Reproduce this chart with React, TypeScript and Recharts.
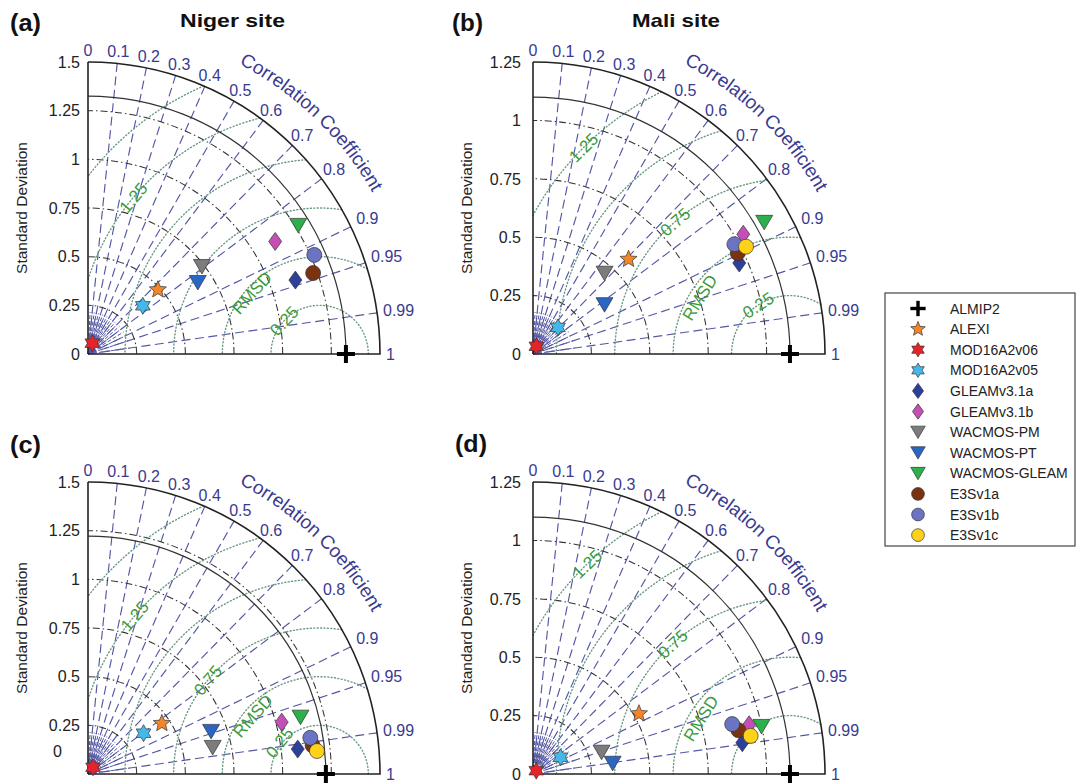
import React from "react";
import { ScatterChart, Scatter, XAxis, YAxis, ReferenceLine } from "recharts";

const models = [
  "ALMIP2",
  "ALEXI",
  "MOD16A2v06",
  "MOD16A2v05",
  "GLEAMv3.1a",
  "GLEAMv3.1b",
  "WACMOS-PM",
  "WACMOS-PT",
  "WACMOS-GLEAM",
  "E3Sv1a",
  "E3Sv1b",
  "E3Sv1c",
];
const markerKinds = ["plus", "star5", "hex", "hex", "diamond", "diamond", "tri", "tri", "tri", "circle", "circle", "circle"];
const markerColors = ["#000000", "#f2862a", "#e5232b", "#45b8ea", "#2b3f9b", "#c44fb7", "#7c7c7c", "#2a66c4", "#2bb04c", "#7b3210", "#6b74c2", "#ffd21a"];

// (a) Niger site: standard deviation and correlation per model
const nigerStdA = [1.325, 0.488, 0.06, 0.375, 1.131, 1.122, 0.738, 0.673, 1.266, 1.229, 1.269, null];
const nigerCorrA = [1, 0.736, 0.37, 0.751, 0.942, 0.857, 0.793, 0.838, 0.853, 0.941, 0.916, null];
// (b) Mali site
const maliStdB = [1.1, 0.576, 0.036, 0.156, 0.965, 1.036, 0.462, 0.372, 1.139, 0.977, 0.982, 1.021];
const maliCorrB = [1, 0.71, 0.4, 0.684, 0.915, 0.869, 0.663, 0.823, 0.869, 0.897, 0.878, 0.893];
// (c) Niger site
const nigerStdC = [1.222, 0.46, 0.043, 0.354, 1.085, 1.03, 0.655, 0.669, 1.13, 1.163, 1.157, 1.182];
const nigerCorrC = [1, 0.825, 0.6, 0.806, 0.993, 0.966, 0.978, 0.945, 0.966, 0.992, 0.987, 0.995];
// (d) Mali site
const maliStdD = [1.1, 0.522, 0.02, 0.138, 0.906, 0.949, 0.308, 0.344, 0.999, 0.899, 0.879, 0.946];
const maliCorrD = [1, 0.869, 0.7, 0.854, 0.989, 0.975, 0.953, 0.991, 0.979, 0.978, 0.97, 0.985];

const corrTicks = [0, 0.1, 0.2, 0.3, 0.4, 0.5, 0.6, 0.7, 0.8, 0.9, 0.95, 0.99, 1];
const corrFan = [0.05, 0.15, 0.25, 0.35, 0.45, 0.55, 0.65, 0.75, 0.85];
const stdTicks15 = [0, 0.25, 0.5, 0.75, 1, 1.25, 1.5];
const stdTicks125 = [0, 0.25, 0.5, 0.75, 1, 1.25];
const stdArcs15 = [0.25, 0.5, 0.75, 1, 1.25];
const stdArcs125 = [0.25, 0.5, 0.75, 1];
const rmsLevels15 = [0.25, 0.5, 0.75, 1, 1.25, 1.5];
const rmsLevels125 = [0.25, 0.5, 0.75, 1, 1.25];
const corrTitle = "Correlation Coefficient";

const FONT = 'Arial, "Liberation Sans", Helvetica, sans-serif';
const RAY = "#5457a4";
const BLUE_TXT = "#3a3a90";
const GREEN_TXT = "#3b9b3b";
const DOT = "#6a9884";

// approximate Arial advance widths (em) for the curved title
const glyphW: Record<string, number> = {
  C: 0.722, o: 0.556, r: 0.333, e: 0.556, l: 0.222, a: 0.556, t: 0.278,
  i: 0.222, n: 0.556, " ": 0.278, f: 0.278, c: 0.5,
};

const panels = [
  {
    key: "a", tag: "(a)", title: "Niger site",
    box: { left: 0, top: 0, width: 440, height: 400 },
    margin: { top: 62, left: 48, right: 60, bottom: 46 },
    R: 1.5, ticks: stdTicks15, stdArcs: stdArcs15, ref: 1.325, rmsCenter: 1.19, rmsLevels: rmsLevels15,
    rmsLabels: [
      { r: 1.25, deg: 140, text: "1.25" },
      { r: 0.47, deg: 138, text: "RMSD" },
      { r: 0.25, deg: 137, text: "0.25" },
    ],
    std: nigerStdA, corr: nigerCorrA, tickDx: 0, zeroShift: null,
  },
  {
    key: "b", tag: "(b)", title: "Mali site",
    box: { left: 440, top: 0, width: 440, height: 400 },
    margin: { top: 62, left: 53, right: 55, bottom: 46 },
    R: 1.25, ticks: stdTicks125, stdArcs: stdArcs125, ref: 1.1, rmsCenter: 1.1, rmsLevels: rmsLevels125,
    rmsLabels: [
      { r: 1.25, deg: 135, text: "1.25" },
      { r: 0.75, deg: 131, text: "0.75" },
      { r: 0.456, deg: 148, text: "RMSD" },
      { r: 0.25, deg: 123, text: "0.25" },
    ],
    std: maliStdB, corr: maliCorrB, tickDx: -4, zeroShift: null,
  },
  {
    key: "c", tag: "(c)", title: "",
    box: { left: 0, top: 400, width: 440, height: 384 },
    margin: { top: 82, left: 48, right: 60, bottom: 10 },
    R: 1.5, ticks: stdTicks15, stdArcs: stdArcs15, ref: 1.222, rmsCenter: 1.19, rmsLevels: rmsLevels15,
    rmsLabels: [
      { r: 1.25, deg: 139.5, text: "1.25" },
      { r: 0.75, deg: 140, text: "0.75" },
      { r: 0.456, deg: 139, text: "RMSD" },
      { r: 0.263, deg: 142, text: "0.25" },
    ],
    std: nigerStdC, corr: nigerCorrC, tickDx: 0, zeroShift: [-18, -23],
  },
  {
    key: "d", tag: "(d)", title: "",
    box: { left: 440, top: 400, width: 440, height: 384 },
    margin: { top: 82, left: 53, right: 55, bottom: 10 },
    R: 1.25, ticks: stdTicks125, stdArcs: stdArcs125, ref: 1.1, rmsCenter: 1.1, rmsLevels: rmsLevels125,
    rmsLabels: [
      { r: 1.25, deg: 134, text: "1.25" },
      { r: 0.75, deg: 132, text: "0.75" },
      { r: 0.45, deg: 148, text: "RMSD" },
    ],
    std: maliStdD, corr: maliCorrD, tickDx: -4, zeroShift: null,
  },
];

function starPoints(cx: number, cy: number, n: number, ro: number, ri: number) {
  const pts: string[] = [];
  for (let i = 0; i < 2 * n; i++) {
    const a = -Math.PI / 2 + (i * Math.PI) / n;
    const r = i % 2 === 0 ? ro : ri;
    pts.push(`${cx + r * Math.cos(a)},${cy + r * Math.sin(a)}`);
  }
  return pts.join(" ");
}

function Marker({ kind, cx, cy, fill, s = 1 }: any) {
  const edge = { fill, stroke: "#333", strokeWidth: 0.7 };
  if (kind === "plus") {
    return (
      <g stroke="#000" strokeWidth={4 * s}>
        <line x1={cx - 9 * s} y1={cy} x2={cx + 9 * s} y2={cy} />
        <line x1={cx} y1={cy - 9 * s} x2={cx} y2={cy + 9 * s} />
      </g>
    );
  }
  if (kind === "star5") return <polygon points={starPoints(cx, cy, 5, 9 * s, 4 * s)} {...edge} />;
  if (kind === "hex") return <polygon points={starPoints(cx, cy, 6, 8.5 * s, 4.9 * s)} {...edge} />;
  if (kind === "diamond")
    return (
      <polygon
        points={`${cx},${cy - 9 * s} ${cx + 6.5 * s},${cy} ${cx},${cy + 9 * s} ${cx - 6.5 * s},${cy}`}
        {...edge}
      />
    );
  if (kind === "tri")
    return (
      <polygon
        points={`${cx - 8.5 * s},${cy - 7 * s} ${cx + 8.5 * s},${cy - 7 * s} ${cx},${cy + 7.5 * s}`}
        {...edge}
      />
    );
  return <circle cx={cx} cy={cy} r={7.5 * s} {...edge} />;
}

function labelWidth(t: string, fs: number) {
  let w = 0;
  for (const ch of t) w += ch === "." ? 0.278 : 0.556;
  return w * fs;
}

// draws the polar grid of a Taylor diagram from the pixel ends of a reference segment
function TaylorGrid({ x1, y1, x2, panel }: any) {
  const R = panel.R;
  const k = (x2 - x1) / R;
  const ox = x1;
  const oy = y1;
  const px = (u: number) => ox + u * k;
  const py = (v: number) => oy - v * k;
  const Rp = R * k;
  const els: any[] = [];

  // fan of short rays near the origin
  corrFan.concat(corrTicks.filter((c) => c > 0 && c < 1)).forEach((c, i) => {
    const s = Math.sqrt(1 - c * c);
    els.push(
      <line key={`fan${i}`} x1={ox + 5 * c} y1={oy - 5 * s} x2={ox + 42 * c} y2={oy - 42 * s}
        stroke={RAY} strokeWidth={1} strokeDasharray="4 2" />
    );
  });

  // correlation rays
  corrTicks.filter((c) => c > 0 && c < 1).forEach((c, i) => {
    const s = Math.sqrt(1 - c * c);
    els.push(
      <line key={`ray${i}`} x1={ox} y1={oy} x2={px(R * c)} y2={py(R * s)}
        stroke={RAY} strokeWidth={1.15} strokeDasharray="9 4.5" />
    );
  });

  // standard deviation arcs
  panel.stdArcs.forEach((s: number, i: number) => {
    els.push(
      <path key={`sa${i}`} d={`M ${px(s)} ${oy} A ${s * k} ${s * k} 0 0 0 ${ox} ${py(s)}`}
        fill="none" stroke="#333" strokeWidth={1.05} strokeDasharray="7 3 1.5 3" />
    );
  });

  // RMSD contours
  const c = panel.rmsCenter;
  panel.rmsLevels.forEach((r: number, i: number) => {
    let a0 = 0;
    let a1 = Math.PI;
    if (c + r > R) {
      const xi = (R * R - r * r + c * c) / (2 * c);
      const yi = Math.sqrt(Math.max(0, R * R - xi * xi));
      a0 = Math.atan2(yi, xi - c);
    }
    if (c - r < 0) {
      const yi = Math.sqrt(r * r - c * c);
      if (yi > R) return;
      a1 = Math.atan2(yi, -c);
    }
    if (a0 >= a1) return;
    els.push(
      <path key={`rm${i}`}
        d={`M ${px(c + r * Math.cos(a0))} ${py(r * Math.sin(a0))} A ${r * k} ${r * k} 0 0 0 ${px(c + r * Math.cos(a1))} ${py(r * Math.sin(a1))}`}
        fill="none" stroke={DOT} strokeWidth={1.4} strokeDasharray="1 2.4" strokeLinecap="round" />
    );
  });

  // reference arc and outer frame
  els.push(
    <path key="refarc" d={`M ${px(panel.ref)} ${oy} A ${panel.ref * k} ${panel.ref * k} 0 0 0 ${ox} ${py(panel.ref)}`}
      fill="none" stroke="#333" strokeWidth={1.2} />
  );
  els.push(
    <path key="outer" d={`M ${ox} ${py(R)} A ${Rp} ${Rp} 0 0 1 ${px(R)} ${oy} L ${ox} ${oy}`}
      fill="none" stroke="#222" strokeWidth={1.6} />
  );

  // correlation tick labels
  corrTicks.forEach((cv, i) => {
    const th = Math.acos(cv);
    const t = String(cv);
    const fs = 16;
    const w = labelWidth(t, fs);
    const h = 0.72 * fs;
    const cs = Math.abs(Math.cos(th));
    const sn = Math.abs(Math.sin(th));
    const d = Math.min(cs > 1e-6 ? w / 2 / cs : 1e9, sn > 1e-6 ? h / 2 / sn : 1e9);
    const r = Rp + 6 + d;
    els.push(
      <text key={`cl${i}`} x={ox + r * Math.cos(th)} y={oy - r * Math.sin(th)} dy="0.36em"
        textAnchor="middle" fontSize={fs} fill={BLUE_TXT} fontFamily={FONT}>
        {t}
      </text>
    );
  });

  // curved axis title, letter by letter along an arc
  const rc = Rp + 35;
  const fsT = 19;
  let adv = 0;
  const a0deg = 62.5;
  Array.from(corrTitle).forEach((ch, i) => {
    const w = (glyphW[ch] ?? 0.5) * fsT;
    const mid = adv + w / 2;
    adv += w;
    if (ch === " ") return;
    const a = (a0deg * Math.PI) / 180 - mid / rc;
    const lx = ox + rc * Math.cos(a);
    const ly = oy - rc * Math.sin(a);
    const rot = 90 - (a * 180) / Math.PI;
    els.push(
      <text key={`ct${i}`} x={lx} y={ly} textAnchor="middle" fontSize={fsT} fill={BLUE_TXT} fontFamily={FONT}
        transform={`rotate(${rot} ${lx} ${ly})`}>
        {ch}
      </text>
    );
  });

  // RMSD labels
  panel.rmsLabels.forEach((lb: any, i: number) => {
    const a = (lb.deg * Math.PI) / 180;
    const lx = px(c + lb.r * Math.cos(a));
    const ly = py(lb.r * Math.sin(a));
    els.push(
      <text key={`rl${i}`} x={lx} y={ly} dy="0.36em" textAnchor="middle" fontSize={17} fill={GREEN_TXT}
        fontFamily={FONT} transform={`rotate(${-(lb.deg - 90)} ${lx} ${ly})`}>
        {lb.text}
      </text>
    );
  });

  // y-axis title
  const tx = ox - 61;
  const ty = oy - Rp / 2;
  els.push(
    <text key="ytitle" x={tx} y={ty} textAnchor="middle" fontSize={15.5} fill="#222" fontFamily={FONT}
      transform={`rotate(-90 ${tx} ${ty})`}>
      Standard Deviation
    </text>
  );

  return <g>{els}</g>;
}

function makeTick(panel: any) {
  return (tp: any) => {
    const v = tp.payload.value;
    let dx = panel.tickDx;
    let dy = 0;
    if (panel.zeroShift && v === 0) {
      dx += panel.zeroShift[0];
      dy += panel.zeroShift[1];
    }
    return (
      <text x={tp.x + dx} y={tp.y + dy} dy="0.36em" textAnchor="end" fontSize={16} fill="#222" fontFamily={FONT}>
        {String(v)}
      </text>
    );
  };
}

function TaylorPanel({ panel }: any) {
  const R = panel.R;
  return (
    <div style={{ position: "absolute", left: panel.box.left, top: panel.box.top }}>
      <ScatterChart width={panel.box.width} height={panel.box.height} margin={panel.margin}>
        <XAxis type="number" dataKey="x" domain={[0, R]} hide />
        <YAxis
          type="number"
          dataKey="y"
          domain={[0, R]}
          ticks={panel.ticks}
          interval={0}
          width={40}
          tickSize={0}
          tickMargin={8}
          tickLine={false}
          axisLine={{ stroke: "#222", strokeWidth: 1.6 }}
          tick={makeTick(panel)}
        />
        <ReferenceLine
          segment={[{ x: 0, y: 0 }, { x: R, y: R }]}
          ifOverflow="visible"
          shape={(lp: any) => <TaylorGrid x1={lp.x1} y1={lp.y1} x2={lp.x2} panel={panel} />}
        />
        {models.map((m, i) => {
          const s = panel.std[i];
          const c = panel.corr[i];
          if (s == null || c == null) return null;
          const pts = [{ x: s * c, y: s * Math.sqrt(1 - c * c), name: m }];
          return (
            <Scatter
              key={m}
              name={m}
              data={pts}
              isAnimationActive={false}
              shape={(sp: any) => <Marker kind={markerKinds[i]} cx={sp.cx} cy={sp.cy} fill={markerColors[i]} />}
            />
          );
        })}
      </ScatterChart>
    </div>
  );
}

function Overlay() {
  const rowY = (i: number) => 308.5 + i * 20.6;
  return (
    <svg width={1078} height={784} style={{ position: "absolute", left: 0, top: 0 }}>
      <text x={10} y={31} fontSize={24} fontWeight="bold" fontFamily={FONT} fill="#111" textLength={31} lengthAdjust="spacingAndGlyphs">(a)</text>
      <text x={180} y={27} fontSize={19} fontWeight="bold" fontFamily={FONT} fill="#111" textLength={105} lengthAdjust="spacingAndGlyphs">Niger site</text>
      <text x={452} y={31} fontSize={24} fontWeight="bold" fontFamily={FONT} fill="#111" textLength={31} lengthAdjust="spacingAndGlyphs">(b)</text>
      <text x={632} y={27} fontSize={19} fontWeight="bold" fontFamily={FONT} fill="#111" textLength={88} lengthAdjust="spacingAndGlyphs">Mali site</text>
      <text x={10} y={453} fontSize={24} fontWeight="bold" fontFamily={FONT} fill="#111" textLength={31} lengthAdjust="spacingAndGlyphs">(c)</text>
      <text x={455} y={452} fontSize={24} fontWeight="bold" fontFamily={FONT} fill="#111" textLength={32} lengthAdjust="spacingAndGlyphs">(d)</text>
      <rect x={885} y={293} width={190} height={253} fill="#fff" stroke="#444" strokeWidth={1.2} />
      {models.map((m, i) => (
        <g key={m}>
          <Marker kind={markerKinds[i]} cx={918} cy={rowY(i)} fill={markerColors[i]} s={0.85} />
          <text x={950} y={rowY(i)} dy="0.36em" fontSize={14} fill="#222" fontFamily={FONT}>
            {m}
          </text>
        </g>
      ))}
    </svg>
  );
}

export default function App() {
  return (
    <div
      style={{
        position: "absolute",
        left: 0,
        top: 0,
        width: 1078,
        height: 784,
        overflow: "hidden",
        background: "#fff",
        fontFamily: FONT,
      }}
    >
      <Overlay />
      {panels.map((p) => (
        <TaylorPanel key={p.key} panel={p} />
      ))}
    </div>
  );
}
